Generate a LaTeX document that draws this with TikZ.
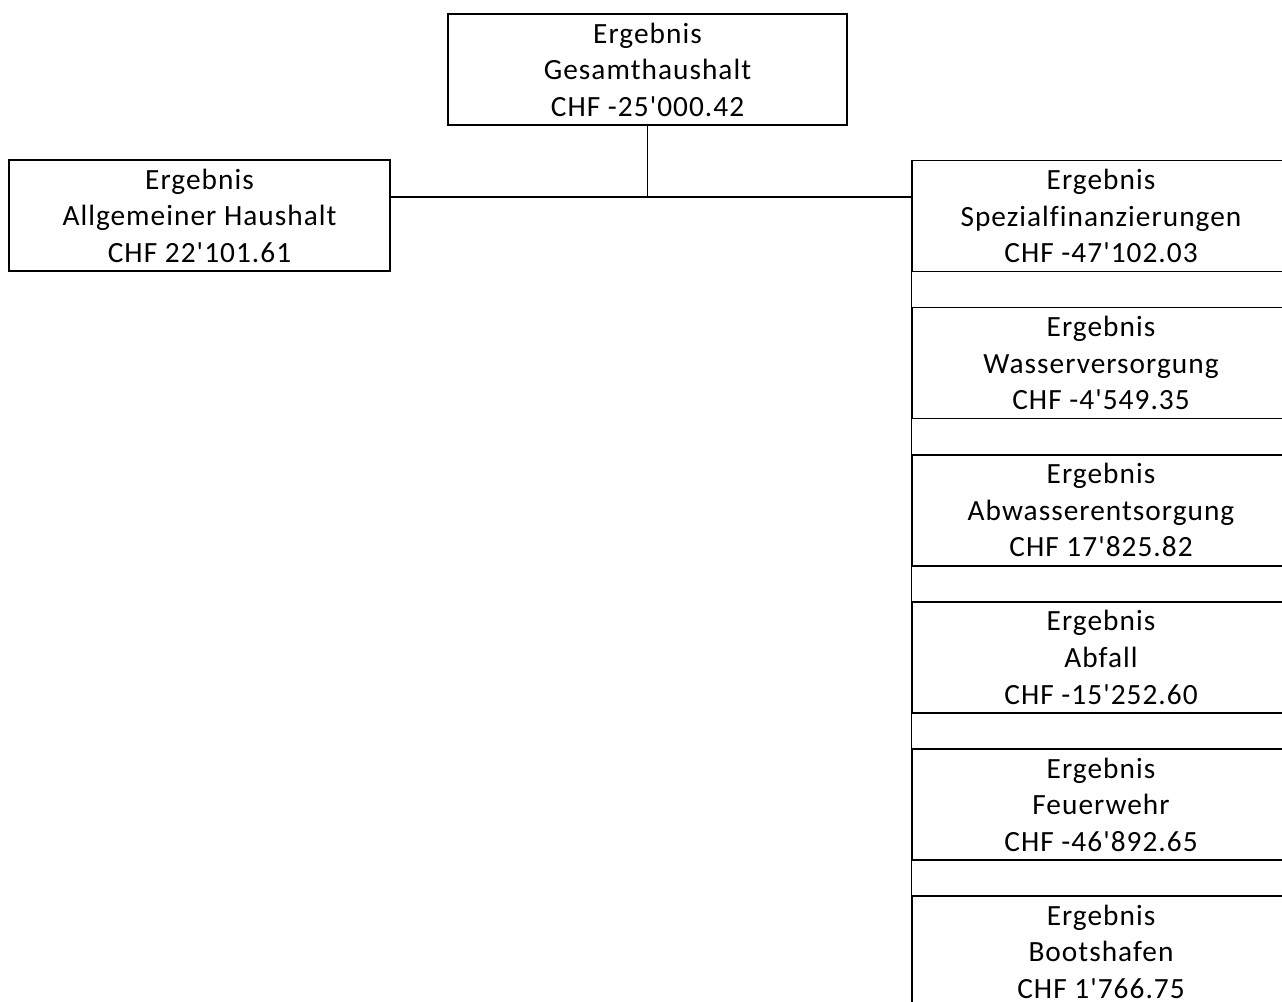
\documentclass[tikz,border=0pt]{standalone}
\usepackage{fontspec}
\setmainfont{Carlito}[Ligatures={TeXOff,NoCommon},LetterSpace=3.5]
\usetikzlibrary{positioning}

\begin{document}
\begin{tikzpicture}[x=0.75pt,y=-0.75pt,
	node distance=26pt,
	ergbox/.style={draw,line width=1.1pt,align=center,inner sep=0pt,
		minimum height=83.25pt,font=\fontsize{22}{27.4}\selectfont},
	link/.style={line width=1.1pt}]
		% page
		\useasboundingbox (0,0) rectangle (1282,1002);
		
		% Gesamthaushalt
		\node[ergbox,minimum width=299.25pt] (gesamt) at (647.5,69.5)
		{Ergebnis\\Gesamthaushalt\\CHF -25'000.42};
		
		% Allgemeiner Haushalt
		\node[ergbox,minimum width=285.75pt] (allg) at (199.5,215.5)
		{Ergebnis\\Allgemeiner Haushalt\\CHF 22'101.61};
		
		% Spezialfinanzierungen and below
		\node[ergbox,minimum width=283.5pt] (spez) at (1101,216)
		{Ergebnis\\Spezialfinanzierungen\\CHF -47'102.03};
		\node[ergbox,minimum width=283.5pt,below=of spez] (wasser)
		{Ergebnis\\Wasserversorgung\\CHF -4'549.35};
		\node[ergbox,minimum width=283.5pt,below=of wasser] (abwasser)
		{Ergebnis\\Abwasserentsorgung\\CHF 17'825.82};
		\node[ergbox,minimum width=283.5pt,below=of abwasser] (abfall)
		{Ergebnis\\Abfall\\CHF -15'252.60};
		\node[ergbox,minimum width=283.5pt,below=of abfall] (feuer)
		{Ergebnis\\Feuerwehr\\CHF -46'892.65};
		\node[ergbox,minimum width=283.5pt,below=of feuer] (boot)
		{Ergebnis\\Bootshafen\\CHF 1'766.75};
		
		% connectors
		\coordinate (knot) at (647.5,197);
		\draw[link] (gesamt.south) -- (knot);
		\draw[link] (allg.east |- knot) -- (spez.west |- knot);
		
		\draw[link] (spez.south west) -- (wasser.north west);
		\draw[link] (wasser.south west) -- (abwasser.north west);
		\draw[link] (abwasser.south west) -- (abfall.north west);
		\draw[link] (abfall.south west) -- (feuer.north west);
		\draw[link] (feuer.south west) -- (boot.north west);
		
	\end{tikzpicture}
\end{document}
